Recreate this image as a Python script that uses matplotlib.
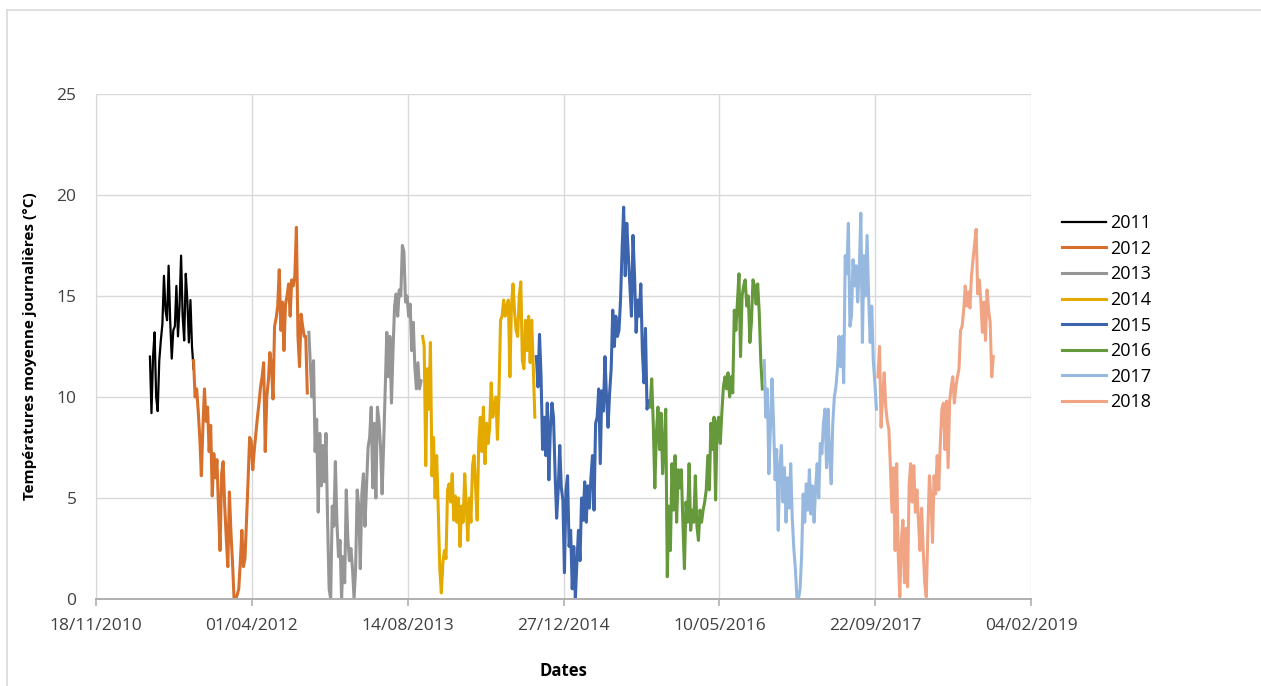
import numpy as np
import pandas as pd
import matplotlib
matplotlib.use("Agg")
import matplotlib.pyplot as plt
import matplotlib.dates as mdates
from matplotlib.lines import Line2D

plt.rcParams['font.family'] = ['Open Sans', 'DejaVu Sans']

# one reading every 5 days
step_days = 5
years = ['2011', '2012', '2013', '2014', '2015', '2016', '2017', '2018']
starts = ['2011-05-10', '2011-09-27', '2012-10-01', '2013-10-01',
          '2014-10-01', '2015-10-01', '2016-10-01', '2017-10-01']
colors = ['#000000', '#d6702c', '#969696', '#e4aa00',
          '#3d65ad', '#65993c', '#97b9e0', '#f0a484']

t2011 = [12.0, 9.2, 12.0, 13.2, 10.0, 9.3, 11.8, 12.8, 13.6, 16.0, 14.3, 13.8, 16.5, 13.8, 11.9,
         13.3, 13.5, 15.5, 13.0, 14.5, 17.0, 14.0, 12.8, 16.1, 14.8, 12.7, 14.8, 12.5, 11.4]
t2012 = [11.8, 10.0, 10.4, 9.3, 8.0, 6.1, 8.5, 10.4, 8.8, 9.5, 7.3, 8.6, 5.1, 7.2, 6.0, 6.9, 4.5,
         2.4, 6.2, 6.8, 4.6, 3.0, 1.6, 5.3, 3.3, 1.8, 0.0, 0.0, 0.2, 0.5, 1.8, 3.4, 1.6, 2.0, 3.9,
         5.9, 8.0, 7.8, 6.4, 7.4, 8.2, 9.0, 9.7, 10.5, 11.0, 11.7, 7.3, 10.0, 10.8, 12.2, 11.5, 9.9,
         13.5, 13.9, 14.5, 16.3, 13.3, 14.7, 12.3, 14.6, 15.0, 15.6, 14.0, 15.8, 15.5, 16.0, 18.4,
         13.0, 11.5, 14.1, 13.5, 13.0, 13.0, 10.2]
t2013 = [13.2, 11.5, 10.0, 11.8, 7.3, 8.9, 4.3, 8.2, 5.6, 7.6, 5.8, 8.2, 3.9, 0.5, 0.0, 4.6, 3.6,
         6.8, 3.8, 2.1, 2.9, 0.0, 2.1, 0.8, 5.4, 3.0, 1.9, 2.5, 1.5, 0.0, 1.5, 5.4, 4.6, 1.5, 5.2,
         6.2, 3.6, 5.6, 7.5, 8.0, 9.5, 5.5, 8.7, 5.0, 9.5, 8.8, 7.5, 5.2, 7.7, 10.4, 13.2, 11.0,
         13.0, 9.7, 12.3, 14.5, 15.1, 14.0, 15.3, 15.0, 17.5, 17.2, 14.7, 15.0, 14.0, 14.6, 12.3,
         13.7, 11.5, 10.4, 11.7, 10.4, 10.8]
t2014 = [13.0, 12.5, 6.6, 11.4, 9.4, 12.7, 6.1, 8.0, 5.0, 7.1, 4.5, 1.5, 0.3, 1.8, 2.4, 2.0, 5.4,
         5.7, 4.8, 6.2, 3.9, 5.1, 3.8, 5.0, 2.6, 4.6, 3.8, 6.2, 4.6, 2.9, 5.0, 3.8, 6.6, 7.1, 5.5,
         3.9, 7.7, 9.0, 7.3, 9.5, 6.7, 8.7, 7.7, 8.5, 10.7, 9.0, 9.5, 10.0, 7.9, 10.2, 13.8, 14.0,
         14.8, 14.0, 14.5, 14.8, 11.0, 14.5, 15.6, 14.2, 13.3, 13.0, 15.0, 15.7, 11.8, 11.4, 13.8,
         12.3, 14.0, 11.7, 13.8, 11.5, 9.0]
t2015 = [12.0, 10.5, 13.1, 11.0, 7.4, 9.0, 7.1, 9.7, 5.9, 8.5, 9.7, 9.0, 6.2, 4.0, 5.4, 7.6, 5.5,
         4.9, 1.3, 5.4, 6.1, 2.6, 3.4, 0.5, 2.6, 0.0, 1.8, 3.4, 1.9, 5.0, 3.9, 5.8, 3.8, 5.6, 4.5,
         6.0, 7.1, 4.4, 8.7, 9.0, 10.4, 6.7, 10.3, 9.3, 12.0, 10.0, 8.5, 10.2, 11.4, 14.3, 12.5,
         14.0, 13.0, 13.3, 14.8, 17.3, 19.4, 16.0, 18.6, 17.0, 15.5, 14.0, 18.0, 16.0, 13.2, 14.8,
         14.0, 15.6, 12.3, 10.7, 13.4, 9.4, 9.8]
t2016 = [9.5, 10.9, 8.7, 5.5, 8.2, 9.5, 7.4, 9.2, 6.2, 7.7, 9.4, 1.1, 4.6, 2.4, 6.7, 4.4, 7.1, 3.8,
         6.4, 5.5, 6.4, 3.8, 1.5, 4.8, 3.8, 6.7, 3.4, 4.4, 3.8, 6.1, 3.6, 2.9, 4.4, 3.8, 4.4, 4.8,
         5.4, 7.1, 5.4, 8.7, 7.4, 9.0, 4.9, 8.7, 9.0, 7.7, 9.2, 10.5, 11.0, 10.4, 11.2, 10.0, 11.0,
         10.2, 14.3, 13.3, 14.7, 16.1, 12.0, 15.0, 15.5, 15.8, 14.5, 15.0, 12.7, 13.7, 15.8, 15.5,
         14.6, 15.6, 14.2, 11.8, 10.4]
t2017 = [11.8, 9.0, 10.4, 6.2, 8.5, 10.9, 8.7, 5.9, 7.4, 3.4, 6.5, 7.6, 4.8, 6.5, 3.8, 6.0, 4.5,
         6.7, 4.0, 2.5, 1.5, 0.0, 0.0, 0.5, 2.1, 5.2, 3.8, 5.7, 4.4, 6.4, 4.2, 5.6, 3.8, 5.5, 6.7,
         5.0, 7.7, 7.2, 8.7, 9.4, 6.5, 9.4, 7.0, 5.7, 8.7, 10.0, 10.5, 11.4, 13.0, 11.5, 13.0, 10.7,
         17.0, 16.1, 18.6, 13.5, 14.0, 16.8, 15.5, 16.5, 14.7, 16.3, 19.1, 12.7, 17.0, 15.0, 18.0,
         15.0, 12.7, 14.5, 11.8, 10.7, 9.4]
t2018 = [11.0, 12.5, 8.5, 10.0, 11.2, 9.5, 8.8, 8.4, 6.5, 4.3, 6.5, 2.4, 6.7, 2.2, 0.1, 2.9, 3.9,
         0.8, 3.5, 0.6, 5.7, 6.7, 4.8, 6.6, 4.3, 5.4, 3.8, 2.4, 4.5, 2.5, 0.8, 0.1, 3.3, 6.1, 5.0,
         2.8, 6.1, 5.2, 7.1, 5.4, 7.7, 9.4, 9.7, 7.4, 9.8, 6.5, 9.8, 10.5, 11.0, 9.7, 10.5, 11.0,
         11.4, 13.3, 13.5, 14.3, 15.5, 14.5, 15.2, 14.4, 16.0, 16.8, 17.6, 18.3, 15.1, 15.8, 14.8,
         13.2, 14.7, 12.8, 15.3, 14.3, 13.7, 11.0, 12.0]
series = [t2011, t2012, t2013, t2014, t2015, t2016, t2017, t2018]

x_ticks = pd.date_range('2010-11-18', periods=7, freq='500D')

fig = plt.figure(figsize=(12.61, 6.86), dpi=100)
ax = fig.add_axes([96 / 1261, 1 - 599 / 686, 935 / 1261, 505 / 686])

for year, start, col, vals in zip(years, starts, colors, series):
    dates = pd.date_range(start, periods=len(vals), freq=f'{step_days}D')
    lw = 1.6 if year == '2011' else 2.2
    ax.plot(dates, vals, color=col, lw=lw, label=year, solid_joinstyle='round')

ax.set_xlim(x_ticks[0], x_ticks[-1])
ax.set_ylim(0, 25)
ax.set_xticks(x_ticks)
ax.xaxis.set_major_formatter(mdates.DateFormatter('%d/%m/%Y'))
ax.set_yticks(np.arange(0, 26, 5))

ax.grid(True, color='#d9d9d9', lw=1.0)
ax.set_axisbelow(True)
for s in ['top', 'right']:
    ax.spines[s].set_visible(False)
ax.spines['left'].set_color('#d9d9d9')
ax.spines['bottom'].set_color('#b0b0b0')
ax.spines['bottom'].set_linewidth(1.4)
ax.tick_params(axis='y', length=0, pad=14, labelsize=12.5, labelcolor='#404040')
ax.tick_params(axis='x', length=5, color='#b0b0b0', width=1.2, pad=9,
               labelsize=12.5, labelcolor='#404040')

ax.set_xlabel('Dates', fontsize=12, fontweight='bold', labelpad=20)
ax.set_ylabel('Températures moyenne journalières (°C)', fontsize=11,
              fontweight='bold', labelpad=14)

fig.legend(loc='upper left', bbox_to_anchor=(1055 / 1261, 1 - 207 / 686),
           frameon=False, fontsize=13, handlelength=2.4, handletextpad=0.25,
           labelspacing=0.42, borderaxespad=0)

# light chart-area border (top and left edges)
fig.add_artist(Line2D([7 / 1261, 1], [1 - 10 / 686] * 2, transform=fig.transFigure,
                      color='#d9d9d9', lw=1.2))
fig.add_artist(Line2D([7 / 1261] * 2, [0, 1 - 10 / 686], transform=fig.transFigure,
                      color='#d9d9d9', lw=1.2))

fig.savefig('out.png', dpi=100)
